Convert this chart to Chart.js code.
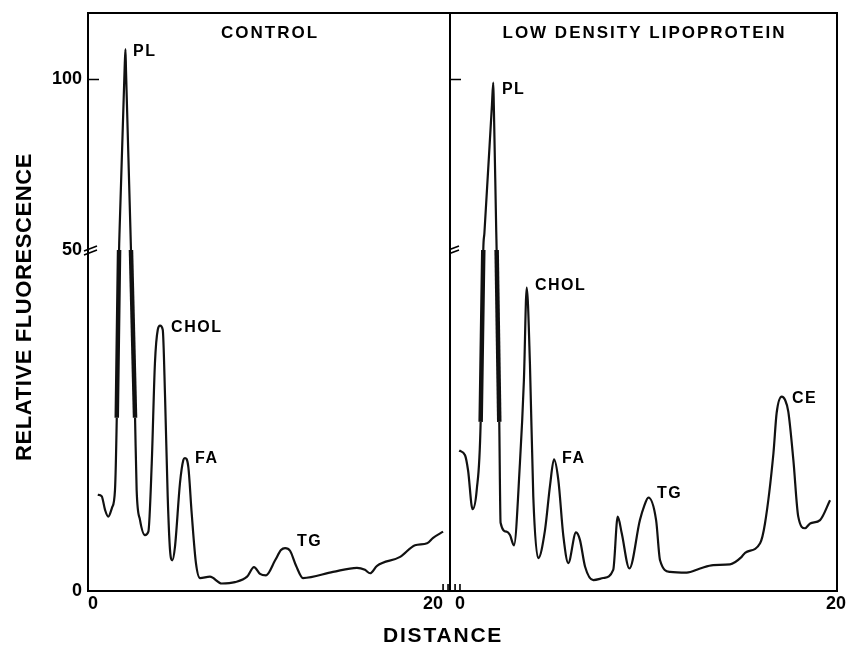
<!DOCTYPE html>
<html>
<head>
<meta charset="utf-8">
<title>Relative fluorescence vs distance</title>
<script src="https://cdn.jsdelivr.net/npm/chart.js@4.4.0/dist/chart.umd.min.js"></script>
<style>
    html, body { margin: 0; padding: 0; background: #fff; }
    #wrap { position: relative; width: 849px; height: 647px; }
    #wrap canvas { position: absolute; top: 0; }
    #left { left: 0; }
    #right { left: 450px; }
</style>
</head>
<body>
<div id="wrap">
    <canvas id="left" width="849" height="647"></canvas>
    <canvas id="right" width="399" height="647"></canvas>
</div>
<script>
// control scan (distance, relative fluorescence)
const controlX = [0.55, 0.77, 0.96, 1.14, 1.35, 1.52, 1.62, 1.75, 1.78, 2.06, 2.11, 2.14, 2.39, 2.42, 2.65, 2.74, 2.93, 3.21, 3.4, 3.59,
    3.77, 3.93, 4.06, 4.21, 4.34, 4.49, 4.62, 4.75, 4.9, 5.18, 5.37, 5.46, 5.65, 5.84, 6.08, 6.31, 6.87, 7.53, 8.28, 8.96,
    9.35, 9.69, 10.03, 10.54, 10.87, 11.1, 11.38, 11.72, 12.11, 13.8, 15.15, 15.6, 15.89, 16.28, 17.58, 18.42, 19.1, 19.44, 20.0];
const controlY = [14.1, 13.9, 11.9, 10.9, 12.2, 14.8, 25.4, 50, 55.9, 102.8, 108.9, 102.8, 55.9, 50, 25.4, 14.8, 10.4, 8.2, 8.7, 18.7,
    33.4, 38.3, 38.9, 38.3, 28.5, 13.8, 6.0, 4.5, 6.5, 15.8, 19.2, 19.5, 18.2, 11.4, 4.1, 1.9, 2.1, 1.1, 1.3, 2.1,
    3.5, 2.5, 2.3, 4.5, 6.0, 6.3, 5.9, 3.7, 1.9, 2.8, 3.4, 3.1, 2.6, 3.7, 5.0, 6.7, 7.0, 7.8, 8.7];

// low density lipoprotein scan
const ldlX = [-0.04, 0.27, 0.43, 0.67, 0.89, 1.1, 1.24, 1.3, 1.7, 1.77, 1.8, 1.93, 1.95, 2.09, 2.16, 2.48, 2.66, 2.87, 3.19, 3.4,
    3.55, 3.72, 3.9, 4.16, 4.52, 4.79, 5.0, 5.23, 5.5, 5.76, 6.17, 6.38, 6.65, 7.09, 7.62, 8.15, 8.39, 8.6, 9.01, 9.57,
    9.79, 10.02, 10.43, 10.64, 11.17, 12.06, 12.77, 13.47, 14.36, 14.98, 15.16, 15.96, 16.22, 16.67, 16.84, 17.11, 17.29, 17.46, 17.73, 17.99,
    18.35, 18.62, 19.15, 19.68];
const ldlY = [20.6, 19.9, 17.7, 12.0, 14.8, 24.8, 50, 55.0, 92.5, 99.1, 92.5, 55.3, 50, 24.8, 10.0, 8.7, 8.2, 6.7, 18.8, 30.9,
    44.5, 33.4, 13.8, 4.8, 8.9, 15.5, 19.3, 16.3, 8.0, 4.1, 8.6, 7.5, 3.6, 1.6, 1.9, 3.1, 10.9, 8.5, 3.3, 10.4,
    12.4, 13.7, 10.4, 4.5, 2.8, 2.7, 3.3, 3.8, 3.9, 5.0, 5.6, 7.0, 9.9, 20.2, 26.1, 28.5, 28.0, 26.3, 19.2, 10.9,
    9.2, 9.9, 10.4, 13.3];

// peak names and where they are written (data units)
const controlPeaks = ['PL', 'CHOL', 'FA', 'TG'];
const controlPeakX = [2.54, 4.68, 6.03, 11.77];
const controlPeakY = [108.2, 38.6, 19.4, 7.2];
const ldlPeaks = ['PL', 'CHOL', 'FA', 'TG', 'CE'];
const ldlPeakX = [2.23, 3.99, 5.43, 10.48, 17.66];
const ldlPeakY = [97.0, 44.8, 19.4, 14.3, 28.2];

const yTicks = [0, 50, 100];
const xTicks = [0, 20];
const Y_BREAK = 50;      // axis is broken here
const Y_SQUEEZE = 2;     // above the break one unit takes half the height
const Y_MAX = 119.5;

const FONT = "'Liberation Sans', Arial, Helvetica, sans-serif";
Chart.defaults.font.family = FONT;
Chart.defaults.color = '#000';

// linear scale with a compressed section above the break
class BrokenLinearScale extends Chart.LinearScale {
    squash(v) {
        return v > Y_BREAK ? Y_BREAK + (v - Y_BREAK) / Y_SQUEEZE : v;
    }
    getPixelForValue(value) {
        if (value === null || value === undefined) return NaN;
        const lo = this.squash(this.min), hi = this.squash(this.max);
        return this.getPixelForDecimal((this.squash(value) - lo) / (hi - lo));
    }
    getValueForPixel(pixel) {
        const lo = this.squash(this.min), hi = this.squash(this.max);
        const d = lo + this.getDecimalForPixel(pixel) * (hi - lo);
        return d > Y_BREAK ? Y_BREAK + (d - Y_BREAK) * Y_SQUEEZE : d;
    }
}
BrokenLinearScale.id = 'brokenLinear';
BrokenLinearScale.defaults = Chart.LinearScale.defaults;
Chart.register(BrokenLinearScale);

const toPoints = (xs, ys) => xs.map((x, i) => ({ x: x, y: ys[i] }));

// the recorder pen draws heavier on the PL flanks between 25 and 50
const heavy = (c) => {
    const a = c.p0.parsed, b = c.p1.parsed;
    return a.x < 3 && a.y >= 24 && a.y <= Y_BREAK && b.y >= 24 && b.y <= Y_BREAK;
};

const drawBreak = (ctx, x, y) => {
    ctx.beginPath();
    ctx.moveTo(x - 6, y + 1); ctx.lineTo(x + 7, y - 4);
    ctx.moveTo(x - 6, y + 5); ctx.lineTo(x + 7, y);
    ctx.stroke();
};

const decor = {
    id: 'panelDecor',
    afterDraw: (chart, args, opts) => {
        const { ctx, chartArea: a, scales } = chart;
        const xs = scales.x, ys = scales.y;
        ctx.save();
        ctx.strokeStyle = '#000';
        ctx.fillStyle = '#000';

        // frame
        ctx.lineWidth = 2;
        ctx.strokeRect(a.left, a.top, a.right - a.left, a.bottom - a.top);

        // inward ticks
        ctx.lineWidth = 1.6;
        ctx.beginPath();
        const y100 = ys.getPixelForValue(100);
        ctx.moveTo(a.left, y100); ctx.lineTo(a.left + 11, y100);
        opts.xMarks.forEach(v => {
            const px = xs.getPixelForValue(v);
            ctx.moveTo(px, a.bottom); ctx.lineTo(px, a.bottom - 7);
        });
        ctx.stroke();
        drawBreak(ctx, a.left + 2, ys.getPixelForValue(Y_BREAK));

        // panel title
        ctx.font = `bold 17px ${FONT}`;
        ctx.letterSpacing = '2px';
        ctx.textAlign = 'center';
        ctx.textBaseline = 'middle';
        ctx.fillText(opts.title, (a.left + a.right) / 2 + 1, 33);

        // peak names
        ctx.font = `bold 16px ${FONT}`;
        ctx.letterSpacing = '1.5px';
        ctx.textAlign = 'left';
        opts.names.forEach((n, i) => {
            ctx.fillText(n, xs.getPixelForValue(opts.nameX[i]), ys.getPixelForValue(opts.nameY[i]));
        });

        // axis titles (left panel only)
        if (opts.axisTitles) {
            ctx.font = `bold 21px ${FONT}`;
            ctx.letterSpacing = '1.8px';
            ctx.textAlign = 'center';
            ctx.fillText('DISTANCE', xs.getPixelForValue(20), 636);
            ctx.font = `bold 22px ${FONT}`;
            ctx.letterSpacing = '0.6px';
            ctx.translate(25, (a.top + a.bottom) / 2 + 5);
            ctx.rotate(-Math.PI / 2);
            ctx.fillText('RELATIVE FLUORESCENCE', 0, 0);
        }
        ctx.restore();
    }
};

const lineDataset = (xs, ys) => ({
    data: toPoints(xs, ys),
    borderColor: '#111',
    borderWidth: 2.2,
    pointRadius: 0,
    fill: false,
    cubicInterpolationMode: 'monotone',
    segment: { borderWidth: c => heavy(c) ? 4.5 : 2.2 }
});

const xScale = (min, max, align) => ({
    type: 'linear',
    min: min,
    max: max,
    grid: { display: false, drawTicks: false },
    border: { display: false },
    afterBuildTicks: s => { s.ticks = xTicks.map(v => ({ value: v })); },
    afterFit: s => { s.height = 56; s.paddingLeft = 0; s.paddingRight = 0; },
    ticks: { font: { size: 18, weight: 'bold' }, padding: 2, maxRotation: 0, align: align }
});

const yScale = (show) => ({
    type: 'brokenLinear',
    display: show,
    min: 0,
    max: Y_MAX,
    grid: { display: false, drawTicks: false },
    border: { display: false },
    afterBuildTicks: s => { s.ticks = yTicks.map(v => ({ value: v })); },
    afterFit: s => {
        s.width = show ? 88 : 0;
        s.paddingTop = 0;
        s.paddingBottom = 0;
    },
    ticks: { font: { size: 18, weight: 'bold' }, padding: 6, callback: v => String(v) }
});

const commonPlugins = {
    legend: { display: false },
    tooltip: { enabled: false }
};

new Chart(document.getElementById('left'), {
    type: 'line',
    data: { datasets: [lineDataset(controlX, controlY)] },
    options: {
        responsive: false,
        animation: false,
        layout: { padding: { top: 13, right: 399, left: 0, bottom: 0 } },
        scales: { x: xScale(0, 20.39, 'inner'), y: yScale(true) },
        plugins: Object.assign({
            panelDecor: {
                title: 'CONTROL',
                names: controlPeaks, nameX: controlPeakX, nameY: controlPeakY,
                xMarks: [20, 20.28],
                axisTitles: true
            }
        }, commonPlugins)
    },
    plugins: [decor]
});

new Chart(document.getElementById('right'), {
    type: 'line',
    data: { datasets: [lineDataset(ldlX, ldlY)] },
    options: {
        responsive: false,
        animation: false,
        layout: { padding: { top: 13, right: 12, left: 0, bottom: 0 } },
        scales: { x: xScale(-0.53, 20.05, 'center'), y: yScale(false) },
        plugins: Object.assign({
            panelDecor: {
                title: 'LOW DENSITY LIPOPROTEIN',
                names: ldlPeaks, nameX: ldlPeakX, nameY: ldlPeakY,
                xMarks: [-0.26, 0],
                axisTitles: false
            }
        }, commonPlugins)
    },
    plugins: [decor]
});
</script>
</body>
</html>
